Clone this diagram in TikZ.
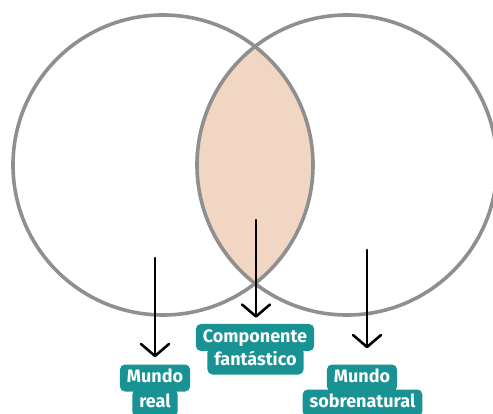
\documentclass[tikz,border=0pt]{standalone}
\usepackage{fontspec}
\newfontfamily\lblfont{Fira Sans}
\usetikzlibrary{arrows.meta}
\definecolor{ring}{RGB}{143,143,143}
\definecolor{peach}{RGB}{242,214,196}
\definecolor{tealbox}{RGB}{24,146,146}
\tikzset{
  ring/.style={draw=ring,line width=3.6pt},
  lbl/.style={fill=tealbox,text=white,font=\lblfont\bfseries\fontsize{18}{21}\selectfont,
    rounded corners=5pt,inner xsep=7pt,inner ysep=0pt,text height=13pt,text depth=4pt,minimum height=27pt},
  arr/.style={line width=2.6pt,black,line cap=round,
    -{Straight Barb[length=12pt,width=28pt,line width=2.6pt,round]}}
}
\begin{document}
\begin{tikzpicture}[x=1pt,y=-1pt]
\useasboundingbox (0,0) rectangle (493,414);
\clip (0,0) rectangle (493,414);
\fill[white] (0,0) rectangle (493,414);
% lens
\begin{scope}
  \clip (163,165) circle[radius=150];
  \fill[peach] (347,165) circle[radius=150];
\end{scope}
\draw[ring] (163,165) circle[radius=150];
\draw[ring] (347,165) circle[radius=150];
% labels
\node[lbl] (comp2) at (255.5,361) {fantástico};
\node[lbl] (comp1) at (255,337.5) {Componente};
\node[lbl] (real2) at (155,403) {real};
\node[lbl] (real1) at (155,378) {Mundo};
\node[lbl] (sob2) at (362.5,403) {sobrenatural};
\node[lbl] (sob1) at (362,378) {Mundo};
% arrows
\coordinate (ra) at (155,258);
\coordinate (ca) at (256,220);
\coordinate (sa) at (367,250);
\draw[arr,shorten >=7pt] (ra) -- (ra |- real1.north);
\draw[arr,shorten >=6pt] (ca) -- (ca |- comp1.north);
\draw[arr,shorten >=16pt] (sa) -- (sa |- sob1.north);
\end{tikzpicture}
\end{document}
